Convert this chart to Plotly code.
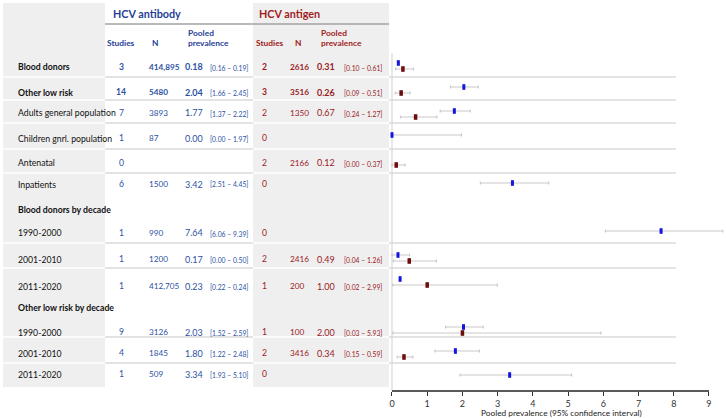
import plotly.graph_objects as go

W, H = 726, 418

# ---------------- data ----------------
labels = ["Blood donors", "Other low risk", "Adults general population", "Children gnrl. population",
          "Antenatal", "Inpatients", "Blood donors by decade", "1990-2000", "2001-2010", "2011-2020",
          "Other low risk by decade", "1990-2000", "2001-2010", "2011-2020"]
bold_rows = [True, True, False, False, False, False, True, False, False, False, True, False, False, False]

ab_studies = [3, 14, 7, 1, 0, 6, None, 1, 1, 1, None, 9, 4, 1]
ab_n = ["414,895", "5480", "3893", "87", None, "1500", None, "990", "1200", "412,705", None, "3126", "1845", "509"]
ab_est = [0.18, 2.04, 1.77, 0.00, None, 3.42, None, 7.64, 0.17, 0.23, None, 2.03, 1.80, 3.34]
ab_lo = [0.16, 1.66, 1.37, 0.00, None, 2.51, None, 6.06, 0.00, 0.22, None, 1.52, 1.22, 1.93]
ab_hi = [0.19, 2.45, 2.22, 1.97, None, 4.45, None, 9.39, 0.50, 0.24, None, 2.59, 2.48, 5.10]

ag_studies = [2, 3, 2, 0, 2, 0, None, 0, 2, 1, None, 1, 2, 0]
ag_n = ["2616", "3516", "1350", None, "2166", None, None, None, "2416", "200", None, "100", "3416", None]
ag_est = [0.31, 0.26, 0.67, None, 0.12, None, None, None, 0.49, 1.00, None, 2.00, 0.34, None]
ag_lo = [0.10, 0.09, 0.24, None, 0.00, None, None, None, 0.04, 0.02, None, 0.03, 0.15, None]
ag_hi = [0.61, 0.51, 1.27, None, 0.37, None, None, None, 1.26, 2.99, None, 5.93, 0.59, None]

x_ticks = [0, 1, 2, 3, 4, 5, 6, 7, 8, 9]
x_title = "Pooled prevalence (95% confidence interval)"

# ---------------- layout constants (pixels) ----------------
FONT = "Lato, Carlito, 'Liberation Sans', sans-serif"
BLUE_H = "#1f3f96"
BLUE = "#2c52a3"
RED_H = "#a01c22"
RED = "#9a1b1f"
PLOT_BOTTOM = 391
ROW0, ROW_STEP, OFF = 66, 24, 3
text_y = [67, 92, 113, 138, 163, 184, 209, 233, 259, 286, 307, 332, 353, 374]
sep_y = [77, 100, 123, 149, 173, 243, 268, 337, 363]
X0_PX, PX_PER_UNIT = 392, 35.22
XMIN, XMAX = -0.1, 9.45


def py(p):  # pixel from top -> paper y
    return (PLOT_BOTTOM - p) / PLOT_BOTTOM


def px(p):  # pixel from left -> paper x
    return p / W


fig = go.Figure()


def add_series(est, lo, hi, offset, color, width):
    xs, ys, ep, em = [], [], [], []
    for i, v in enumerate(est):
        if v is None:
            continue
        xs.append(v)
        ys.append(ROW0 + ROW_STEP * i + offset)
        ep.append(hi[i] - v)
        em.append(v - lo[i])
    fig.add_trace(go.Scatter(
        x=xs, y=ys, mode="markers", cliponaxis=False, showlegend=False,
        marker=dict(symbol="line-ns", size=4, color=color, line=dict(color=color, width=width)),
        error_x=dict(type="data", symmetric=False, array=ep, arrayminus=em,
                     color="#c9c9c9", thickness=1.2, width=1.5),
        hoverinfo="skip"))


add_series(ab_est, ab_lo, ab_hi, -OFF, "#1414e0", 3)
add_series(ag_est, ag_lo, ag_hi, OFF, "#6e0d0d", 3.5)

shapes = []
# gray column backgrounds
for x0, x1 in [(3, 105), (253, 389)]:
    shapes.append(dict(type="rect", xref="paper", yref="paper", x0=px(x0), x1=px(x1),
                       y0=py(387), y1=py(3), fillcolor="#efefef", line=dict(width=0), layer="below"))
# header underline
shapes.append(dict(type="line", xref="paper", yref="paper", x0=px(105), x1=px(389),
                   y0=py(24), y1=py(24), line=dict(color="#a3a3a3", width=1.5)))
# row separators
for yy in sep_y:
    for x0, x1, c in [(3, 105, "#ffffff"), (105, 253, "#dadada"), (253, 389, "#ffffff"), (389, 676, "#dadada")]:
        shapes.append(dict(type="line", xref="paper", yref="paper", x0=px(x0), x1=px(x1),
                           y0=py(yy), y1=py(yy), line=dict(color=c, width=1.5), layer="below"))
# zero line
shapes.append(dict(type="line", xref="x", yref="paper", x0=0, x1=0, y0=0, y1=py(53),
                   line=dict(color="#d0d0d0", width=1), layer="below"))
# axis line
shapes.append(dict(type="line", xref="x", yref="paper", x0=x_ticks[0], x1=x_ticks[-1], y0=0, y1=0,
                   line=dict(color="#222222", width=1.5)))

ann = []


def t(x, y, text, size=9, color="#111111", bold=False, anchor="left"):
    if bold:
        text = "<b>" + text + "</b>"
    ann.append(dict(x=px(x), y=py(y), xref="paper", yref="paper", text=text, showarrow=False,
                    xanchor=anchor, yanchor="middle", font=dict(family=FONT, size=size, color=color)))


# headers
t(111, 13, "HCV antibody", 10.8, BLUE_H, True)
t(257, 13, "HCV antigen", 10.8, RED_H, True)
t(121, 43, "Studies", 8.4, BLUE_H, True, "center")
t(155, 43, "N", 8.4, BLUE_H, True, "center")
t(186, 33, "Pooled", 8.4, BLUE_H, True)
t(186, 43, "prevalence", 8.4, BLUE_H, True)
t(270, 43, "Studies", 8.4, RED_H, True, "center")
t(298, 43, "N", 8.4, RED_H, True, "center")
t(319, 33, "Pooled", 8.4, RED_H, True)
t(319, 43, "prevalence", 8.4, RED_H, True)

for i, lab in enumerate(labels):
    y = text_y[i]
    b = bold_rows[i]
    t(16, y, lab, 8.7, "#111111", b)
    if ab_studies[i] is not None:
        t(121, y, str(ab_studies[i]), 8.6, BLUE, b, "center")
    if ab_n[i] is not None:
        t(147, y, ab_n[i], 8.2, BLUE, b)
    if ab_est[i] is not None:
        t(205, y, f"{ab_est[i]:.2f}", 9, BLUE, b, "right")
        t(208, y + 0.5, f"[{ab_lo[i]:.2f} – {ab_hi[i]:.2f}]", 6.8, BLUE, False)
    if ag_studies[i] is not None:
        t(264, y, str(ag_studies[i]), 8.6, RED, b, "center")
    if ag_n[i] is not None:
        t(288, y, ag_n[i], 8.2, RED, b)
    if ag_est[i] is not None:
        t(337, y, f"{ag_est[i]:.2f}", 9, RED, b, "right")
        t(342, y + 0.5, f"[{ag_lo[i]:.2f} – {ag_hi[i]:.2f}]", 6.8, RED, False)

t(561, 413, x_title, 8.3, "#222222", False, "center")

left_px = X0_PX + XMIN * PX_PER_UNIT
right_px = X0_PX + XMAX * PX_PER_UNIT

fig.update_layout(
    width=W, height=H, margin=dict(l=0, r=0, t=0, b=H - PLOT_BOTTOM),
    paper_bgcolor="white", plot_bgcolor="rgba(0,0,0,0)",
    shapes=shapes, annotations=ann, showlegend=False,
    xaxis=dict(domain=[left_px / W, right_px / W], range=[XMIN, XMAX], tickvals=x_ticks,
               ticks="outside", ticklen=4, tickcolor="#333333", tickwidth=1,
               showline=False, showgrid=False, zeroline=False,
               tickfont=dict(family=FONT, size=9, color="#333333"), fixedrange=True),
    yaxis=dict(range=[PLOT_BOTTOM, 0], visible=False, showgrid=False, zeroline=False, fixedrange=True),
)

fig.write_html("out.html", config={"displayModeBar": False},
               post_script="document.body.style.margin='0';document.body.style.overflow='hidden';")
